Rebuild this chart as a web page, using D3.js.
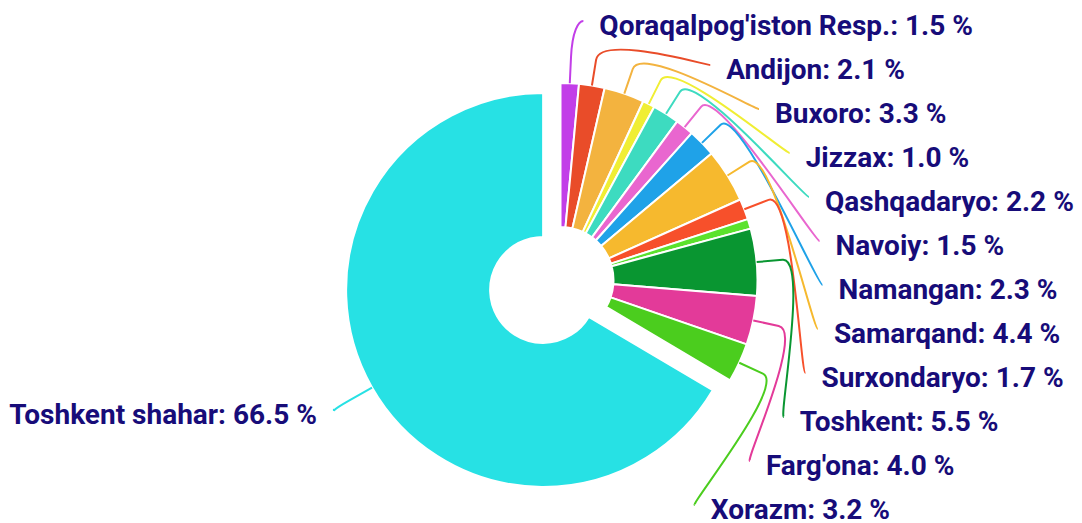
<!DOCTYPE html>
<html><head><meta charset="utf-8">
<script src="https://cdn.jsdelivr.net/npm/d3@7"></script>
<style>html,body{margin:0;padding:0;background:#fff}svg{display:block}</style>
</head><body><svg id="c" width="1082" height="523"></svg>
<script>
const regions = ["Qoraqalpog'iston Resp.", "Andijon", "Buxoro", "Jizzax", "Qashqadaryo", "Navoiy", "Namangan", "Samarqand", "Surxondaryo", "Sirdaryo", "Toshkent", "Farg'ona", "Xorazm", "Toshkent shahar"];
const shares = [1.5, 2.1, 3.3, 1.0, 2.2, 1.5, 2.3, 4.4, 1.7, 0.8, 5.5, 4.0, 3.2, 66.5];
const colors = ["#c23ee8", "#e94c29", "#f3b33f", "#f0ee34", "#3ddbc0", "#e966cf", "#1fa2e8", "#f6b92e", "#f7502b", "#5be22d", "#099631", "#e33a99", "#4bcd1e", "#27e1e4"];
const slicedOut = ["Toshkent shahar"];
const hiddenLabels = ["Sirdaryo"];

const data = regions.map((name, i) => ({name, v: shares[i], color: colors[i]}));

const W = 1082, H = 523;
const cx = 560.5, cy = 280, R = 197, r0 = 53, sliceOffset = 20;
const labelR = 262, breakLen = 26, rowH = 44, topY = 21;
const textColor = "#170c79";

const svg = d3.select("#c");
const pie = d3.pie().sort(null).value(d => d.v);
const arcs = pie(data);
const arc = d3.arc().innerRadius(r0).outerRadius(R);

const mid = d => (d.startAngle + d.endAngle) / 2;
const off = d => slicedOut.includes(d.data.name) ? sliceOffset : 0;

// slices
svg.append("g").selectAll("path").data(arcs).join("path")
  .attr("transform", d => `translate(${cx + off(d) * Math.sin(mid(d))},${cy - off(d) * Math.cos(mid(d))})`)
  .attr("d", arc)
  .attr("fill", d => d.data.color)
  .attr("stroke", "#fff")
  .attr("stroke-width", 2)
  .attr("stroke-linejoin", "round");

// label layout
const labeled = arcs.filter(d => !hiddenLabels.includes(d.data.name));
const right = labeled.filter(d => mid(d) < Math.PI);
const left = labeled.filter(d => mid(d) >= Math.PI);

function circleX(y, side) {
  const dy = Math.max(-labelR, Math.min(labelR, y - cy));
  return cx + side * Math.sqrt(labelR * labelR - dy * dy);
}
function layout(list, side) {
  let prev = -Infinity;
  list.forEach(d => {
    const a = mid(d);
    const natural = cy - labelR * Math.cos(a);
    const y = Math.max(natural, prev + rowH, topY);
    prev = y;
    const x = circleX(y <= topY + 2 ? topY - 2 : y, side);
    d.lab = {x, y, side};
  });
}
layout(right, 1);
layout(left.slice().reverse(), -1);

const g = svg.append("g");
labeled.forEach(d => {
  const a = mid(d);
  const ox = cx + off(d) * Math.sin(a), oy = cy - off(d) * Math.cos(a);
  const t = {x: ox + R * Math.sin(a), y: oy - R * Math.cos(a)};
  const bk = {x: ox + (R + breakLen) * Math.sin(a), y: oy - (R + breakLen) * Math.cos(a)};
  const L = d.lab;
  const path = d3.path();
  path.moveTo(L.x, L.y);
  path.bezierCurveTo(L.x - 5 * L.side, L.y, 2 * bk.x - t.x, 2 * bk.y - t.y, bk.x, bk.y);
  path.lineTo(t.x, t.y);
  g.append("path").attr("d", path.toString())
    .attr("fill", "none").attr("stroke", d.data.color).attr("stroke-width", 2);
  g.append("text")
    .attr("x", L.x + (L.side > 0 ? 16 : -16))
    .attr("y", L.y + 14)
    .attr("text-anchor", L.side > 0 ? "start" : "end")
    .attr("font-family", "Roboto, sans-serif")
    .attr("font-weight", "bold")
    .attr("font-size", 28)
    .attr("fill", textColor)
    .text(`${d.data.name}: ${d.data.v.toFixed(1)} %`);
});
</script>
</body></html>
